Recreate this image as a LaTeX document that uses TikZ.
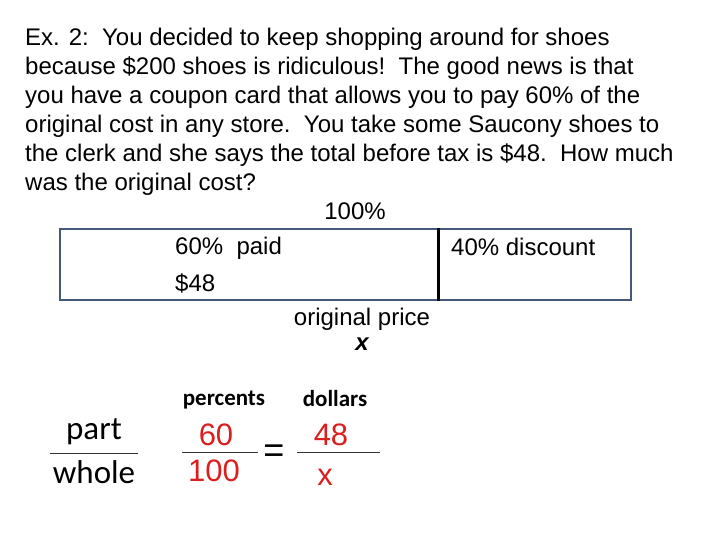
\documentclass[tikz,border=0pt]{standalone}
\usepackage{fontspec}
\setmainfont{Liberation Sans}
\newfontfamily\calfont{Carlito}
\usetikzlibrary{positioning,calc}
\definecolor{boxcolor}{RGB}{68,90,120}
\definecolor{numred}{RGB}{220,30,30}
\tikzset{
  body/.style    = {inner sep=0pt, font=\fontsize{24}{29}\selectfont},
  headlabel/.style = {inner sep=0pt, font=\calfont\bfseries\fontsize{23}{26}\selectfont},
  bigword/.style = {inner sep=0pt, font=\calfont\fontsize{33}{36}\selectfont},
  rednum/.style  = {inner sep=0pt, text=numred, font=\fontsize{31}{34}\selectfont},
  barline/.style = {line width=1pt, draw=black!80},
  outline/.style = {draw=boxcolor, line width=2.2pt, inner sep=0pt}
}
\begin{document}
\begin{tikzpicture}[x=1pt,y=-1pt]
\useasboundingbox (0,0) rectangle (720,540);

% --- question text ---
\node[body, anchor=north west, align=left] (question) at (25,28)
  {Ex. 2:\ \ You decided to keep shopping around for shoes\\
   because \$200 shoes is ridiculous!\ \ The good news is that\\
   you have a coupon card that allows you to pay 60\% of the\\
   original cost in any store.\ \ You take some Saucony shoes to\\
   the clerk and she says the total before tax is \$48.\ \ How much\\
   was the original cost?};

% --- bar model ---
\node[body] (whole) at (355,211) {100\%};
\node[outline, minimum width=571, minimum height=71] (bar) at (345.5,264.5) {};
\coordinate (cut) at (438,229);
\draw[line width=3pt] (cut |- bar.north) -- (cut |- bar.south);
\node[body, anchor=west] (paid) at (175,248.5) {60\%\ \ paid};
\node[body, anchor=west] (paidamt) at (175,283) {\$48};
\node[body, anchor=west] (disc) at (451,247) {40\% discount};
\node[body] (orig) at (362,319) {original price};
\node[body, font=\fontsize{24}{26}\bfseries\itshape] (origx) at (362,344.5) {x};

% --- proportion ---
\node[bigword] (part) at (94,432) {part};
\node[bigword] (wholew) at (94,472) {whole};
\coordinate (pw1) at (50,453);
\coordinate (pw2) at (138,453);
\draw[barline] (pw1) -- (pw2);

\node[headlabel] (pct) at (224,400.5) {percents};
\node[headlabel] (dol) at (335,399) {dollars};

\node[rednum] (sixty) at (216,435) {60};
\node[rednum] (hundred) at (214,471) {100};
\coordinate (f1) at (182,452);
\coordinate (f2) at (258,452);
\draw[barline] (f1) -- (f2);
\node[inner sep=0pt, font=\fontsize{36}{38}\selectfont] (eq) at (274,454) {=};
\node[rednum] (fortyeight) at (331,435) {48};
\node[rednum] (xval) at (325,477) {x};
\coordinate (g1) at (297,452);
\coordinate (g2) at (380,452);
\draw[barline] (g1) -- (g2);

\end{tikzpicture}
\end{document}
